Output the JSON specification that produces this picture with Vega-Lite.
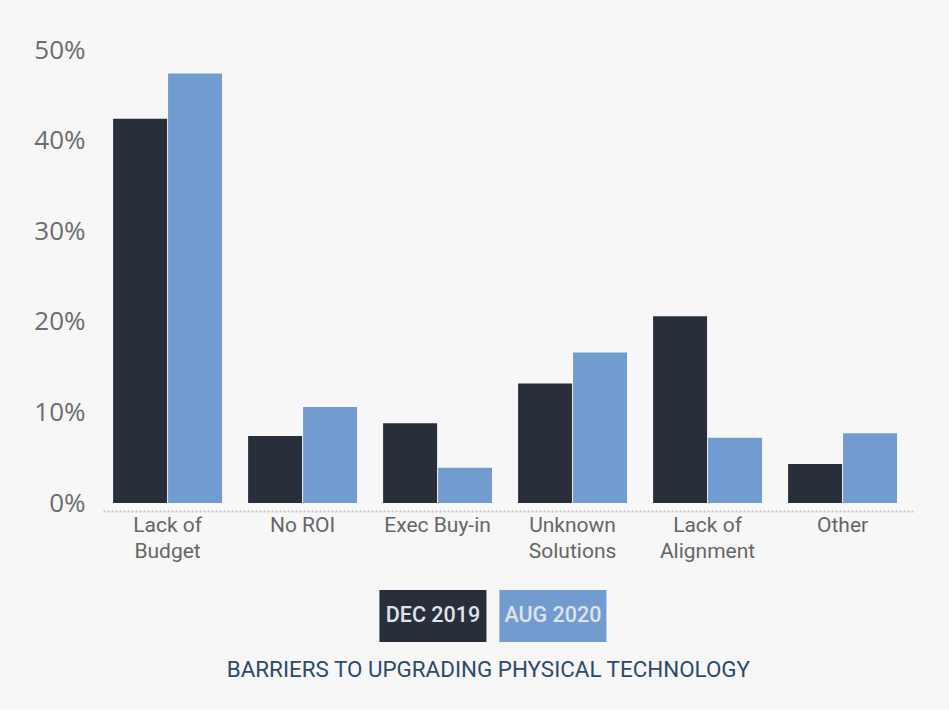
{
  "$schema": "https://vega.github.io/schema/vega-lite/v6.json",
  "background": "#f7f7f7",
  "padding": {"top": 37, "left": 33, "right": 34, "bottom": 28},
  "config": {"view": {"stroke": null}, "font": "Roboto", "concat": {"spacing": 29}},
  "title": {"text": "BARRIERS TO UPGRADING PHYSICAL TECHNOLOGY", "orient": "bottom", "anchor": "middle", "color": "#2d4a6b", "fontSize": 22.4, "fontWeight": "normal", "font": "Roboto", "offset": 17, "dx": 14},
  "center": true,
  "vconcat": [
    {
      "width": 812,
      "height": 453,
      "data": {"values": [
        {"barrier": "Lack of Budget", "period": "DEC 2019", "pct": 42.4},
        {"barrier": "Lack of Budget", "period": "AUG 2020", "pct": 47.4},
        {"barrier": "No ROI", "period": "DEC 2019", "pct": 7.4},
        {"barrier": "No ROI", "period": "AUG 2020", "pct": 10.6},
        {"barrier": "Exec Buy-in", "period": "DEC 2019", "pct": 8.8},
        {"barrier": "Exec Buy-in", "period": "AUG 2020", "pct": 3.9},
        {"barrier": "Unknown Solutions", "period": "DEC 2019", "pct": 13.2},
        {"barrier": "Unknown Solutions", "period": "AUG 2020", "pct": 16.6},
        {"barrier": "Lack of Alignment", "period": "DEC 2019", "pct": 20.6},
        {"barrier": "Lack of Alignment", "period": "AUG 2020", "pct": 7.2},
        {"barrier": "Other", "period": "DEC 2019", "pct": 4.3},
        {"barrier": "Other", "period": "AUG 2020", "pct": 7.7}
      ]},
      "mark": {"type": "bar"},
      "encoding": {
        "x": {
          "field": "barrier", "type": "nominal",
          "sort": ["Lack of Budget", "No ROI", "Exec Buy-in", "Unknown Solutions", "Lack of Alignment", "Other"],
          "scale": {"paddingInner": 0.193, "paddingOuter": 0.104, "align": 0.36},
          "axis": {
            "title": null, "labelAngle": 0, "ticks": false,
            "domainColor": "#c8c8c8", "domainDash": [2, 2], "domainWidth": 2,
            "offset": 8, "labelPadding": 3,
            "labelFontSize": 21, "labelColor": "#666666", "labelFont": "Roboto", "labelLineHeight": 26,
            "labelExpr": "datum.label == 'Lack of Budget' ? ['Lack of', 'Budget'] : datum.label == 'Unknown Solutions' ? ['Unknown', 'Solutions'] : datum.label == 'Lack of Alignment' ? ['Lack of', 'Alignment'] : datum.label"
          }
        },
        "xOffset": {"field": "period", "type": "nominal", "sort": ["DEC 2019", "AUG 2020"], "scale": {"paddingInner": 0.018}},
        "y": {
          "field": "pct", "type": "quantitative",
          "scale": {"domain": [0, 50], "nice": false},
          "axis": {
            "title": null, "values": [0, 10, 20, 30, 40, 50], "labelExpr": "datum.value + '%'",
            "domain": false, "ticks": false, "grid": false,
            "labelFontSize": 26, "labelColor": "#6d6d6d", "labelPadding": 18, "labelFont": "Open Sans"
          }
        },
        "color": {
          "field": "period", "type": "nominal",
          "scale": {"domain": ["DEC 2019", "AUG 2020"], "range": ["#282f3b", "#729bd0"]},
          "legend": null
        }
      }
    },
    {
      "width": 467,
      "height": 52,
      "data": {"values": [
        {"period": "DEC 2019"},
        {"period": "AUG 2020"}
      ]},
      "encoding": {
        "x": {
          "field": "period", "type": "nominal", "sort": ["DEC 2019", "AUG 2020"],
          "scale": {"paddingInner": 0.108, "paddingOuter": 1, "align": 0.433},
          "axis": null
        }
      },
      "layer": [
        {
          "mark": {"type": "bar"},
          "encoding": {
            "color": {
              "field": "period", "type": "nominal",
              "scale": {"domain": ["DEC 2019", "AUG 2020"], "range": ["#282f3b", "#729bd0"]},
              "legend": null
            }
          }
        },
        {
          "mark": {"type": "text", "fontSize": 21.5, "fontWeight": 500, "color": "#dfe3ea", "font": "Roboto", "baseline": "middle"},
          "encoding": {"text": {"field": "period"}}
        }
      ]
    }
  ]
}
